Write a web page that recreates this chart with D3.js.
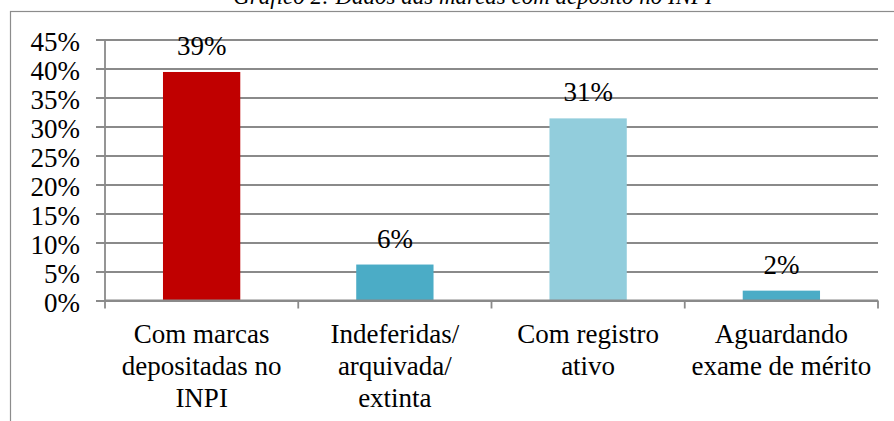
<!DOCTYPE html>
<html>
<head>
<meta charset="utf-8">
<script src="https://cdn.jsdelivr.net/npm/d3@7"></script>
<style>
  body { margin: 0; background: #fff; }
</style>
</head>
<body>
<div id="chart"></div>
<script>
// data
var categories = ["Com marcas depositadas no INPI", "Indeferidas/ arquivada/ extinta", "Com registro ativo", "Aguardando exame de mérito"];
var categoryLines = [["Com marcas", "depositadas no", "INPI"], ["Indeferidas/", "arquivada/", "extinta"], ["Com registro", "ativo"], ["Aguardando", "exame de mérito"]];
var values = [0.394, 0.062, 0.314, 0.017];
var barColors = ["#c00000", "#4bacc6", "#92cddc", "#4bacc6"];
var yTicks = [0, 0.05, 0.10, 0.15, 0.20, 0.25, 0.30, 0.35, 0.40, 0.45];
var title = "Gráfico 2: Dados das marcas com depósito no INPI";

var svgWidth = 894;
var svgHeight = 421;
var font = "Liberation Serif";

var plot = { left: 105, right: 878, top: 39.5, bottom: 300.5 };

var svg = d3.select("#chart")
  .append("svg")
  .attr("width", svgWidth)
  .attr("height", svgHeight)
  .attr("font-family", font);

// title, cut off at the top like in the source
svg.append("text")
  .attr("x", 473)
  .attr("y", 4)
  .attr("text-anchor", "middle")
  .attr("font-family", font)
  .attr("font-style", "italic")
  .attr("font-size", 23)
  .attr("fill", "#000")
  .text(title);

// chart frame (runs off the right and bottom)
svg.append("rect")
  .attr("x", 10.5)
  .attr("y", 11.5)
  .attr("width", 1000)
  .attr("height", 600)
  .attr("fill", "none")
  .attr("stroke", "#8c8c8c")
  .attr("stroke-width", 1.2);

var yScale = d3.scaleLinear()
  .domain([0, 0.45])
  .range([plot.bottom, plot.top]);

var xScale = d3.scaleBand()
  .domain(categories)
  .range([plot.left, plot.right])
  .paddingInner(0.6)
  .paddingOuter(0.3);

var xBounds = d3.scaleBand()
  .domain(categories)
  .range([plot.left, plot.right]);

// gridlines + left ticks
var leftAxis = d3.axisLeft(yScale)
  .tickValues(yTicks)
  .tickFormat(d3.format(".0%"));

var yAxis = svg.append("g")
  .attr("transform", `translate(${plot.right}, 0)`)
  .call(leftAxis)
  .attr("font-family", font);

yAxis.select(".domain").remove();
yAxis.selectAll(".tick line")
  .attr("x1", 0)
  .attr("x2", -(plot.right - plot.left) - 9)
  .attr("stroke", "#8a8a8a")
  .attr("stroke-width", 1.8);
yAxis.selectAll(".tick text")
  .attr("x", -(plot.right - 80))
  .attr("dy", "0.4em")
  .attr("font-size", 27)
  .attr("font-family", font)
  .attr("fill", "#000");

// y axis line
svg.append("line")
  .attr("x1", plot.left)
  .attr("x2", plot.left)
  .attr("y1", plot.top)
  .attr("y2", plot.bottom)
  .attr("stroke", "#8a8a8a")
  .attr("stroke-width", 1.8);

// bars
svg.append("g")
  .selectAll("rect")
  .data(values)
  .enter()
  .append("rect")
  .attr("x", (d, i) => xScale(categories[i]))
  .attr("y", d => yScale(d))
  .attr("width", xScale.bandwidth())
  .attr("height", d => yScale(0) - yScale(d))
  .attr("fill", (d, i) => barColors[i]);

// value labels
svg.append("g")
  .selectAll("text")
  .data(values)
  .enter()
  .append("text")
  .attr("x", (d, i) => xScale(categories[i]) + xScale.bandwidth() / 2)
  .attr("y", d => yScale(d) - 17)
  .attr("text-anchor", "middle")
  .attr("font-family", font)
  .attr("font-size", 27)
  .attr("fill", "#000")
  .text(d => d3.format(".0%")(d));

// x axis line and boundary ticks
svg.append("line")
  .attr("x1", plot.left)
  .attr("x2", plot.right)
  .attr("y1", plot.bottom)
  .attr("y2", plot.bottom)
  .attr("stroke", "#8a8a8a")
  .attr("stroke-width", 1.8);

var tickXs = categories.map(c => xBounds(c)).concat([plot.right]);
svg.append("g")
  .selectAll("line")
  .data(tickXs)
  .enter()
  .append("line")
  .attr("x1", d => d)
  .attr("x2", d => d)
  .attr("y1", plot.bottom)
  .attr("y2", plot.bottom + 8)
  .attr("stroke", "#8a8a8a")
  .attr("stroke-width", 1.8);

// category labels
var catLabels = svg.append("g")
  .selectAll("text")
  .data(categories)
  .enter()
  .append("text")
  .attr("text-anchor", "middle")
  .attr("font-family", font)
  .attr("font-size", 27)
  .attr("fill", "#000")
  .attr("x", d => xBounds(d) + xBounds.bandwidth() / 2)
  .attr("y", 343);

catLabels.selectAll("tspan")
  .data((d, i) => categoryLines[i])
  .enter()
  .append("tspan")
  .attr("x", function() { return d3.select(this.parentNode).attr("x"); })
  .attr("dy", (d, i) => i === 0 ? 0 : 32)
  .text(d => d);
</script>
</body>
</html>
